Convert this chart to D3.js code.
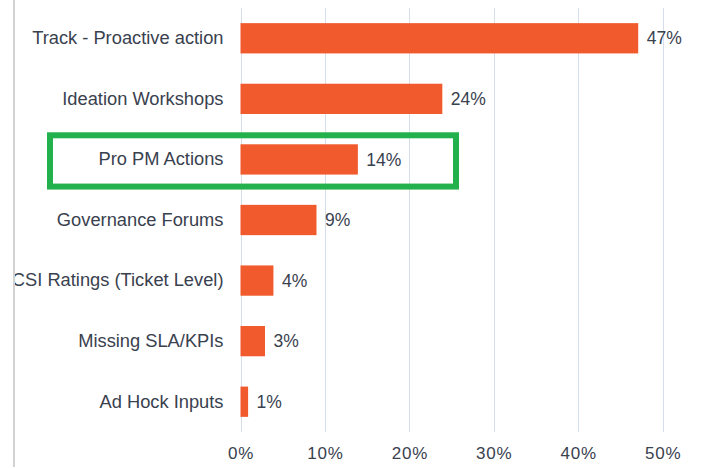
<!DOCTYPE html>
<html><head><meta charset="utf-8">
<script src="https://cdn.jsdelivr.net/npm/d3@7"></script>
<style>html,body{margin:0;padding:0;background:#fff;}svg{display:block;font-family:"Liberation Sans",Arial,sans-serif;}</style>
</head><body>
<svg id="c" width="701" height="468"></svg>
<script>
const categories = ["Track - Proactive action","Ideation Workshops","Pro PM Actions","Governance Forums","CSI Ratings (Ticket Level)","Missing SLA/KPIs","Ad Hock Inputs"];
const values = [47.1, 23.9, 13.9, 9.0, 3.9, 2.9, 0.9];
const tickValues = [0,10,20,30,40,50];
const highlighted = "Pro PM Actions";

const svg = d3.select("#c");
const x = d3.scaleLinear().domain([0,50]).range([240.5, 662.7]);
const y = d3.scaleBand().domain(categories).range([8, 432]).paddingInner(0.5).paddingOuter(0.25);
const textColor = "#39414e";

// gridlines
svg.append("g").selectAll("line").data(tickValues).join("line")
  .attr("x1",d=>Math.round(x(d))+0.5).attr("x2",d=>Math.round(x(d))+0.5)
  .attr("y1",8).attr("y2",432).attr("stroke","#d5dfeb").attr("stroke-width",1);

// x axis labels
const xAxis = d3.axisBottom(x).tickValues(tickValues).tickFormat(d=>d+"%").tickSize(0).tickPadding(0);
const gx = svg.append("g").attr("transform","translate(0,447)").call(xAxis);
gx.select(".domain").remove();
gx.selectAll("text").attr("font-size",17).attr("fill",textColor).attr("dy","0.71em")
  .attr("font-family","'Liberation Sans',Arial,sans-serif").attr("letter-spacing","0.8px");

// bars
svg.append("g").selectAll("rect").data(categories).join("rect")
  .attr("x",x(0)).attr("y",d=>y(d)).attr("height",y.bandwidth())
  .attr("width",(d,i)=>x(values[i])-x(0)).attr("fill","#f15a2c");

// category labels
const yAxis = d3.axisLeft(y).tickSize(0).tickPadding(17);
const gy = svg.append("g").attr("transform",`translate(${x(0)},0)`).call(yAxis);
gy.select(".domain").remove();
gy.selectAll("text").attr("font-size",18.3).attr("fill",textColor)
  .attr("font-family","'Liberation Sans',Arial,sans-serif");

// value labels
svg.append("g").selectAll("text").data(categories).join("text")
  .attr("x",(d,i)=>x(values[i])+8.5).attr("y",d=>y(d)+y.bandwidth()/2).attr("dy","0.35em")
  .attr("font-size",17.5).attr("fill",textColor)
  .text((d,i)=>Math.round(values[i])+"%");

// highlight box
svg.append("rect").attr("x",50).attr("y",y(highlighted)-9).attr("width",406).attr("height",y.bandwidth()+21)
  .attr("fill","none").attr("stroke","#22b14c").attr("stroke-width",6);

// left crop edge and border line (drawn over text, as in the reference)
svg.append("rect").attr("x",0).attr("y",0).attr("width",13).attr("height",468).attr("fill","#fff");
svg.append("line").attr("x1",14).attr("x2",14).attr("y1",0).attr("y2",467)
  .attr("stroke","#d2d2d2").attr("stroke-width",2);
</script>
</body></html>
